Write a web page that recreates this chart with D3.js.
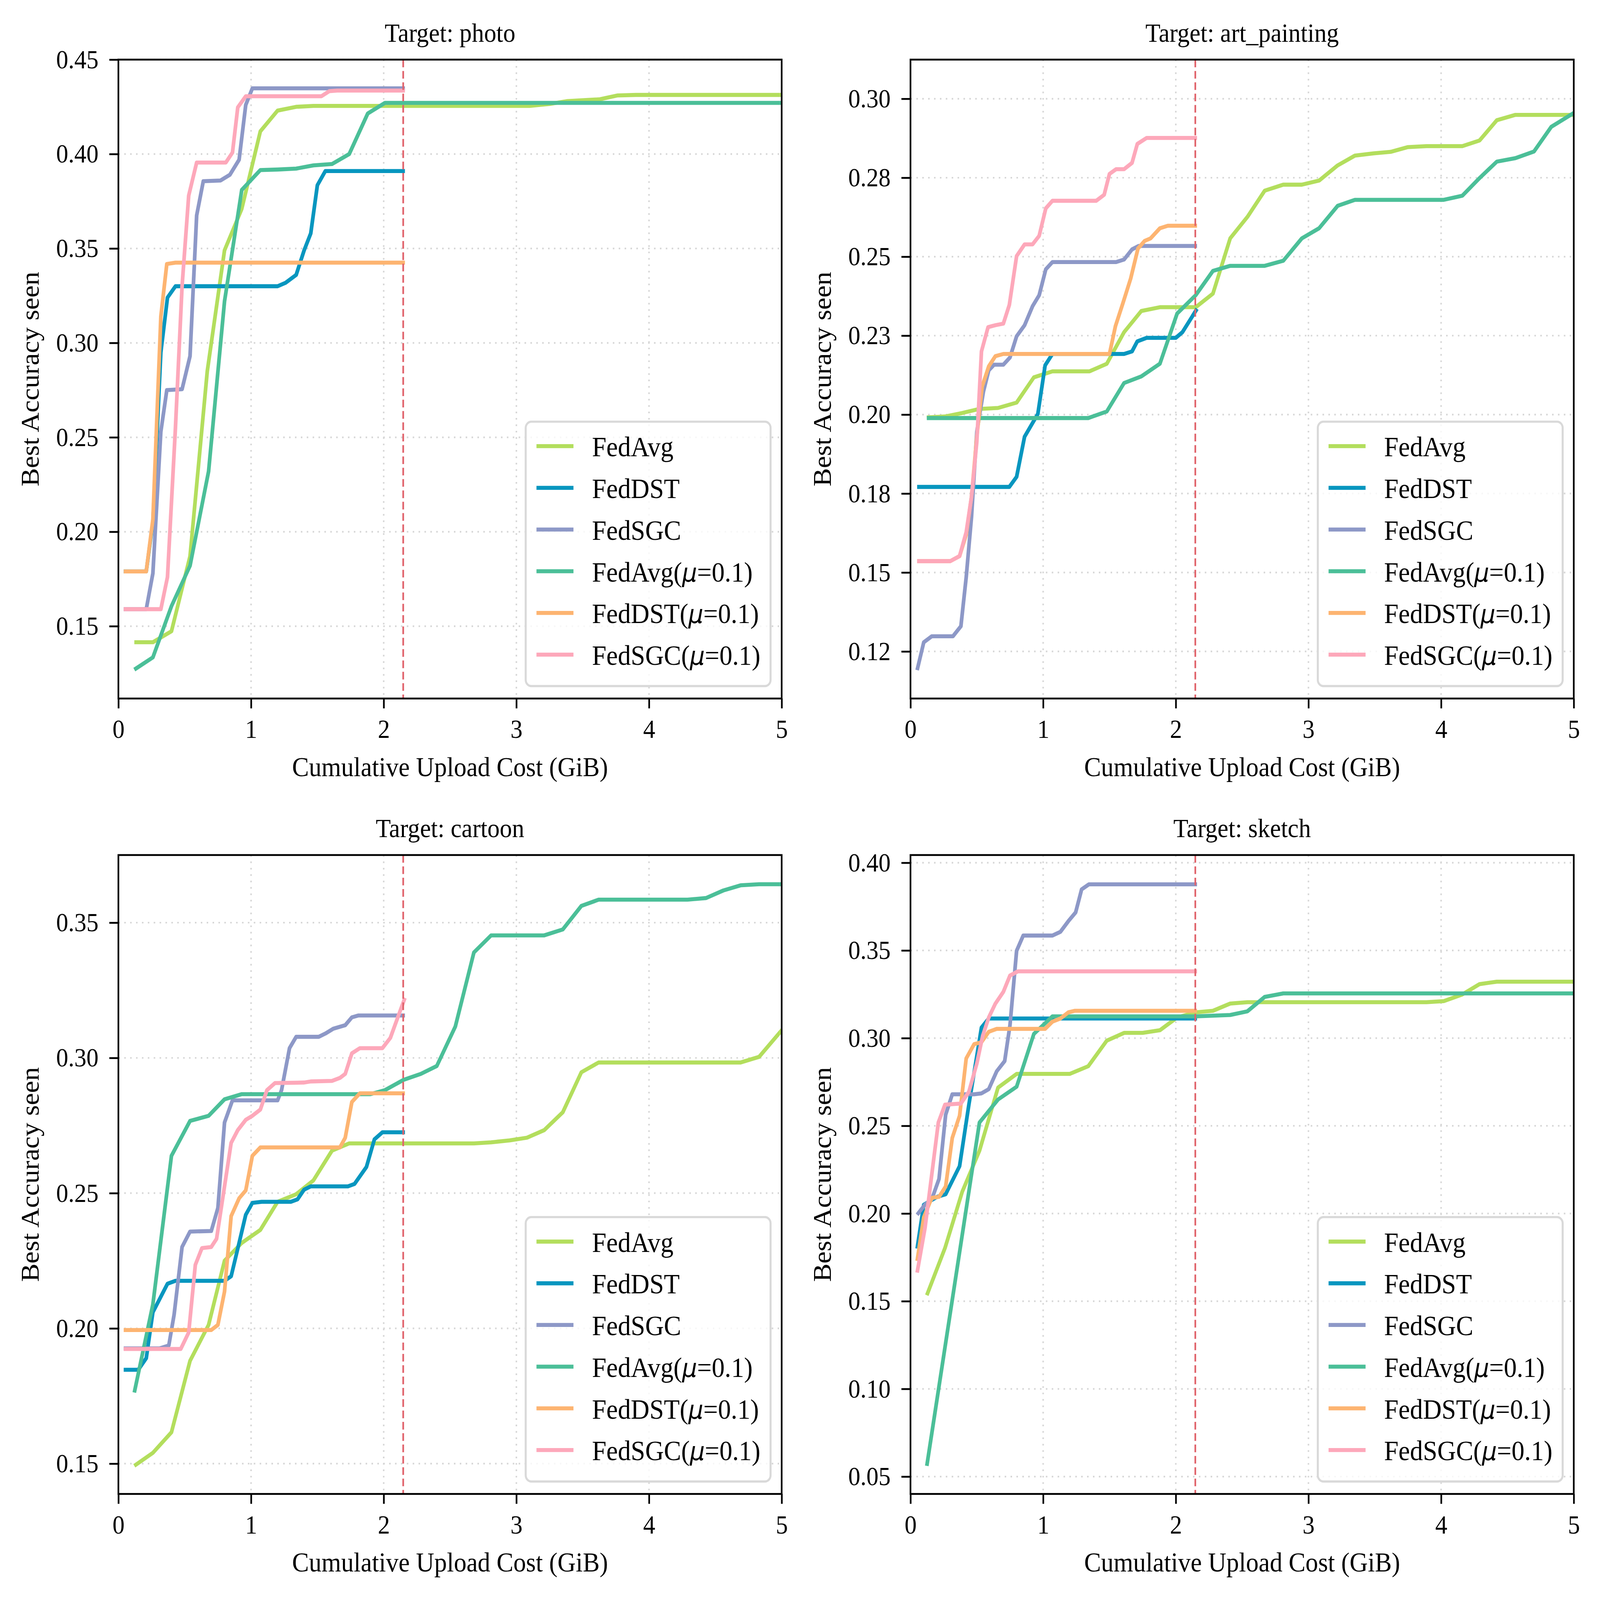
<!DOCTYPE html>
<html>
<head>
<meta charset="utf-8">
<script src="https://cdn.jsdelivr.net/npm/d3@7"></script>
<style>
  html, body { margin: 0; padding: 0; background: #fff; overflow: hidden; }
  svg { display: block; }
  text { font-family: "Liberation Serif", "Times New Roman", serif; fill: #000; }
</style>
</head>
<body>
<script>

// ---- data ----

const panelTitles = ["Target: photo", "Target: art_painting", "Target: cartoon", "Target: sketch"];

const seriesNames = ["FedAvg", "FedDST", "FedSGC", "FedAvg(μ=0.1)", "FedDST(μ=0.1)", "FedSGC(μ=0.1)"];

const xTicks = [0, 1, 2, 3, 4, 5];
const xDomain = [0, 5];
const budgetLine = 2.147;

const yDomains = [[0.1117, 0.45], [0.1101, 0.3124], [0.1388, 0.375], [0.0401, 0.4044]];

const photoYTicks = [0.15, 0.20, 0.25, 0.30, 0.35, 0.40, 0.45];
const photoYLabels = ["0.15", "0.20", "0.25", "0.30", "0.35", "0.40", "0.45"];
const artYTicks = [0.125, 0.15, 0.175, 0.2, 0.225, 0.25, 0.275, 0.3];
const artYLabels = ["0.12", "0.15", "0.18", "0.20", "0.23", "0.25", "0.28", "0.30"];
const cartoonYTicks = [0.15, 0.20, 0.25, 0.30, 0.35];
const cartoonYLabels = ["0.15", "0.20", "0.25", "0.30", "0.35"];
const sketchYTicks = [0.05, 0.10, 0.15, 0.20, 0.25, 0.30, 0.35, 0.40];
const sketchYLabels = ["0.05", "0.10", "0.15", "0.20", "0.25", "0.30", "0.35", "0.40"];

// photo: [upload cost GiB, best accuracy]
const photoFedAvg = [[0.12,0.1415],[0.26,0.1415],[0.40,0.1473],[0.54,0.187],[0.67,0.285],[0.80,0.349],[0.93,0.371],[1.07,0.412],[1.20,0.423],[1.34,0.425],[1.47,0.4255],[3.1,0.4255],[3.25,0.4265],[3.38,0.428],[3.63,0.429],[3.76,0.431],[3.9,0.4313],[5.2,0.4313]];
const photoFedDST = [[0.04,0.179],[0.21,0.179],[0.26,0.205],[0.32,0.295],[0.37,0.324],[0.43,0.33],[1.2,0.33],[1.26,0.3318],[1.34,0.336],[1.40,0.349],[1.45,0.358],[1.50,0.3835],[1.56,0.391],[2.16,0.391]];
const photoFedSGC = [[0.04,0.159],[0.21,0.159],[0.26,0.178],[0.32,0.253],[0.365,0.275],[0.48,0.2755],[0.54,0.293],[0.59,0.3675],[0.64,0.3856],[0.77,0.386],[0.84,0.389],[0.91,0.397],[0.96,0.426],[1.01,0.4348],[2.16,0.4348]];
const photoFedAvgMu = [[0.12,0.127],[0.26,0.1335],[0.40,0.1606],[0.54,0.182],[0.68,0.232],[0.80,0.322],[0.93,0.381],[1.07,0.3915],[1.20,0.3918],[1.34,0.3923],[1.47,0.394],[1.61,0.3947],[1.74,0.400],[1.88,0.4215],[2.01,0.4271],[5.2,0.4271]];
const photoFedDSTMu = [[0.04,0.179],[0.21,0.179],[0.26,0.2066],[0.32,0.314],[0.365,0.3418],[0.43,0.3425],[2.16,0.3425]];
const photoFedSGCMu = [[0.04,0.159],[0.32,0.159],[0.37,0.176],[0.43,0.255],[0.48,0.33],[0.53,0.378],[0.59,0.3955],[0.81,0.3955],[0.86,0.4008],[0.90,0.4247],[0.96,0.4306],[1.53,0.4306],[1.59,0.4333],[1.65,0.4336],[2.16,0.4336]];

// art_painting
const artFedAvg = [[0.123,0.1991],[0.26,0.1994],[0.39,0.2005],[0.52,0.2018],[0.66,0.2021],[0.80,0.2038],[0.93,0.2118],[1.07,0.2137],[1.35,0.2137],[1.48,0.2161],[1.61,0.2261],[1.74,0.2328],[1.88,0.234],[2.15,0.234],[2.28,0.2383],[2.41,0.2558],[2.54,0.2626],[2.67,0.2709],[2.81,0.2728],[2.95,0.2728],[3.08,0.2741],[3.22,0.2789],[3.35,0.282],[3.49,0.2827],[3.62,0.2832],[3.75,0.2847],[3.89,0.285],[4.16,0.285],[4.29,0.2868],[4.42,0.2932],[4.56,0.2949],[5.2,0.2949]];
const artFedDST = [[0.05,0.1771],[0.745,0.1771],[0.80,0.1803],[0.86,0.193],[0.96,0.2002],[1.015,0.2156],[1.07,0.2192],[1.61,0.2192],[1.67,0.220],[1.71,0.2232],[1.78,0.2243],[2.0,0.2243],[2.05,0.2261],[2.16,0.2335]];
const artFedSGC = [[0.05,0.1191],[0.10,0.1279],[0.16,0.1298],[0.32,0.1298],[0.38,0.133],[0.42,0.1485],[0.46,0.1676],[0.50,0.1946],[0.55,0.2073],[0.59,0.214],[0.63,0.2158],[0.70,0.2158],[0.75,0.2181],[0.80,0.2248],[0.86,0.2283],[0.92,0.2343],[0.97,0.2378],[1.02,0.246],[1.07,0.2483],[1.55,0.2483],[1.61,0.2491],[1.67,0.2523],[1.72,0.2534],[2.16,0.2534]];
const artFedAvgMu = [[0.123,0.1989],[1.34,0.1989],[1.48,0.201],[1.61,0.210],[1.74,0.2121],[1.88,0.2161],[2.01,0.232],[2.15,0.2378],[2.28,0.2455],[2.41,0.2471],[2.67,0.2471],[2.81,0.2487],[2.95,0.2558],[3.08,0.259],[3.22,0.2661],[3.35,0.268],[4.02,0.268],[4.16,0.2693],[4.29,0.2749],[4.42,0.2801],[4.56,0.2812],[4.70,0.2833],[4.83,0.2911],[5.0,0.2955],[5.1,0.2972]];
const artFedDSTMu = [[0.05,0.1536],[0.30,0.1536],[0.37,0.1552],[0.42,0.162],[0.46,0.174],[0.50,0.193],[0.54,0.2089],[0.59,0.2153],[0.64,0.2185],[0.70,0.2192],[1.50,0.2192],[1.545,0.228],[1.60,0.2351],[1.66,0.2431],[1.715,0.2526],[1.765,0.255],[1.81,0.2558],[1.88,0.259],[1.94,0.2598],[2.16,0.2598]];
const artFedSGCMu = [[0.05,0.1536],[0.30,0.1536],[0.37,0.1552],[0.42,0.1628],[0.46,0.174],[0.50,0.1914],[0.535,0.220],[0.585,0.2277],[0.64,0.2283],[0.70,0.2288],[0.745,0.2347],[0.80,0.2502],[0.86,0.2539],[0.92,0.2539],[0.97,0.2566],[1.02,0.2653],[1.07,0.2677],[1.40,0.2677],[1.46,0.2696],[1.50,0.2762],[1.55,0.2777],[1.61,0.2777],[1.67,0.2797],[1.71,0.2857],[1.78,0.2876],[2.16,0.2876]];

// cartoon
const cartoonFedAvg = [[0.12,0.1492],[0.26,0.154],[0.40,0.1616],[0.54,0.188],[0.68,0.2013],[0.80,0.225],[0.93,0.2316],[1.07,0.2364],[1.20,0.2468],[1.34,0.2496],[1.47,0.2547],[1.61,0.2657],[1.74,0.2684],[2.68,0.2684],[2.81,0.2688],[2.95,0.2695],[3.08,0.2705],[3.21,0.2733],[3.35,0.2799],[3.49,0.2947],[3.62,0.2983],[4.69,0.2983],[4.83,0.3004],[5.0,0.3102],[5.1,0.316]];
const cartoonFedDST = [[0.04,0.1847],[0.15,0.1847],[0.21,0.189],[0.26,0.206],[0.37,0.2165],[0.43,0.2176],[0.80,0.2176],[0.85,0.2193],[0.91,0.2316],[0.96,0.242],[1.01,0.2464],[1.08,0.2468],[1.30,0.2468],[1.35,0.2477],[1.40,0.2513],[1.45,0.2525],[1.73,0.2525],[1.78,0.2534],[1.87,0.2597],[1.93,0.2699],[1.99,0.2725],[2.16,0.2725]];
const cartoonFedSGC = [[0.04,0.1926],[0.31,0.1926],[0.38,0.1937],[0.42,0.2051],[0.48,0.2301],[0.54,0.2358],[0.70,0.236],[0.75,0.2445],[0.80,0.2761],[0.86,0.2843],[1.20,0.2843],[1.23,0.2881],[1.29,0.3036],[1.34,0.3078],[1.51,0.3078],[1.56,0.309],[1.62,0.3108],[1.71,0.3121],[1.76,0.315],[1.81,0.3157],[2.16,0.3157]];
const cartoonFedAvgMu = [[0.12,0.1763],[0.26,0.2089],[0.40,0.2638],[0.54,0.2767],[0.68,0.2786],[0.80,0.2847],[0.93,0.2866],[1.90,0.2866],[2.01,0.2881],[2.15,0.2919],[2.28,0.2941],[2.40,0.297],[2.54,0.3116],[2.68,0.339],[2.81,0.3453],[3.21,0.3453],[3.35,0.3475],[3.49,0.3562],[3.62,0.3585],[4.29,0.3585],[4.43,0.3591],[4.56,0.3619],[4.69,0.3638],[4.83,0.3642],[5.2,0.3642]];
const cartoonFedDSTMu = [[0.04,0.1994],[0.70,0.1994],[0.75,0.2013],[0.80,0.2136],[0.85,0.2415],[0.91,0.2481],[0.96,0.251],[1.01,0.2638],[1.07,0.2669],[1.67,0.2669],[1.71,0.2705],[1.76,0.2837],[1.82,0.2869],[2.16,0.2869]];
const cartoonFedSGCMu = [[0.04,0.1924],[0.47,0.1924],[0.53,0.1985],[0.58,0.2235],[0.63,0.2297],[0.70,0.2301],[0.74,0.2331],[0.80,0.2525],[0.85,0.2686],[0.90,0.2733],[0.96,0.2771],[1.01,0.2786],[1.07,0.2809],[1.12,0.2881],[1.18,0.2907],[1.40,0.2909],[1.45,0.2913],[1.61,0.2915],[1.67,0.2926],[1.71,0.2941],[1.76,0.3017],[1.82,0.3036],[1.99,0.3036],[2.05,0.3074],[2.16,0.3222]];

// sketch
const sketchFedAvg = [[0.123,0.1534],[0.26,0.1803],[0.39,0.2124],[0.52,0.2358],[0.66,0.2718],[0.80,0.2796],[1.20,0.2796],[1.34,0.284],[1.48,0.2986],[1.61,0.303],[1.75,0.303],[1.88,0.3045],[2.01,0.3118],[2.15,0.3147],[2.28,0.3156],[2.41,0.3197],[2.54,0.3205],[3.89,0.3205],[4.02,0.3211],[4.16,0.3249],[4.29,0.3308],[4.42,0.3322],[5.2,0.3322]];
const sketchFedDST = [[0.05,0.18],[0.10,0.205],[0.20,0.2095],[0.265,0.211],[0.37,0.227],[0.44,0.262],[0.535,0.306],[0.59,0.3112],[2.16,0.3112]];
const sketchFedSGC = [[0.05,0.1993],[0.11,0.2051],[0.16,0.208],[0.215,0.2197],[0.265,0.2563],[0.315,0.268],[0.48,0.268],[0.535,0.2685],[0.59,0.2709],[0.65,0.2811],[0.71,0.2869],[0.75,0.3074],[0.80,0.3498],[0.85,0.3585],[1.07,0.3585],[1.13,0.3606],[1.19,0.3667],[1.245,0.3717],[1.29,0.3848],[1.345,0.3877],[2.16,0.3877]];
const sketchFedAvgMu = [[0.123,0.0561],[0.52,0.2519],[0.66,0.265],[0.80,0.2723],[0.93,0.3024],[1.07,0.3124],[2.15,0.3124],[2.41,0.3132],[2.54,0.3153],[2.67,0.3235],[2.81,0.3255],[5.2,0.3255]];
const sketchFedDSTMu = [[0.05,0.173],[0.10,0.1978],[0.16,0.2089],[0.215,0.2095],[0.265,0.2154],[0.315,0.2431],[0.37,0.2557],[0.42,0.2884],[0.48,0.2966],[0.535,0.2977],[0.59,0.3036],[0.65,0.3053],[1.015,0.3053],[1.07,0.3094],[1.13,0.3112],[1.19,0.3147],[1.24,0.3156],[2.16,0.3156]];
const sketchFedSGCMu = [[0.05,0.1663],[0.11,0.192],[0.21,0.2519],[0.26,0.2621],[0.38,0.2627],[0.44,0.2694],[0.50,0.2855],[0.545,0.3015],[0.59,0.3118],[0.64,0.3197],[0.70,0.3264],[0.75,0.3357],[0.81,0.3381],[2.16,0.3381]];

const panelSeries = [
  [photoFedAvg, photoFedDST, photoFedSGC, photoFedAvgMu, photoFedDSTMu, photoFedSGCMu],
  [artFedAvg, artFedDST, artFedSGC, artFedAvgMu, artFedDSTMu, artFedSGCMu],
  [cartoonFedAvg, cartoonFedDST, cartoonFedSGC, cartoonFedAvgMu, cartoonFedDSTMu, cartoonFedSGCMu],
  [sketchFedAvg, sketchFedDST, sketchFedSGC, sketchFedAvgMu, sketchFedDSTMu, sketchFedSGCMu]
];
const panelYTicks = [photoYTicks, artYTicks, cartoonYTicks, sketchYTicks];
const panelYLabels = [photoYLabels, artYLabels, cartoonYLabels, sketchYLabels];

// ---- styling / layout ----

const colors = ["#b3de5d", "#0796bf", "#8d98c7", "#4bbf98", "#fdb471", "#fda8ba"];

const W = 4757, H = 4375;
const plotW = 1972, plotH = 1747;
const origins = [[352, 163], [2707, 163], [352, 2338], [2707, 2338]];

// scale the whole drawing to whatever viewport the page gets
const svg = d3.select("body").append("svg")
  .attr("viewBox", "0 0 " + W + " " + H)
  .attr("preserveAspectRatio", "none")
  .style("width", "100vw")
  .style("height", "100vh");

svg.append("rect").attr("width", W).attr("height", H).attr("fill", "#fff");

panelTitles.forEach((title, p) => {

  const x = d3.scaleLinear().domain(xDomain).range([0, plotW]);
  const y = d3.scaleLinear().domain(yDomains[p]).range([plotH, 0]);

  const g = svg.append("g")
    .attr("transform", "translate(" + origins[p][0] + "," + origins[p][1] + ")");

  // grid
  g.append("g").selectAll("line")
    .data(xTicks)
    .enter().append("line")
    .attr("x1", d => x(d)).attr("x2", d => x(d))
    .attr("y1", 0).attr("y2", plotH)
    .attr("stroke", "#d6d6d6").attr("stroke-width", 4.5)
    .attr("stroke-dasharray", "4.5,13");

  g.append("g").selectAll("line")
    .data(panelYTicks[p])
    .enter().append("line")
    .attr("x1", 0).attr("x2", plotW)
    .attr("y1", d => y(d)).attr("y2", d => y(d))
    .attr("stroke", "#d6d6d6").attr("stroke-width", 4.5)
    .attr("stroke-dasharray", "4.5,13");

  // series
  g.append("clipPath")
    .attr("id", "clip" + p)
    .append("rect")
    .attr("width", plotW)
    .attr("height", plotH);

  const line = d3.line().x(d => x(d[0])).y(d => y(d[1]));

  g.append("g")
    .attr("clip-path", "url(#clip" + p + ")")
    .selectAll("path")
    .data(panelSeries[p])
    .enter().append("path")
    .attr("d", line)
    .attr("fill", "none")
    .attr("stroke", (d, i) => colors[i])
    .attr("stroke-width", 11)
    .attr("stroke-linejoin", "round")
    .attr("stroke-linecap", "butt");

  // communication budget marker
  g.append("line")
    .attr("x1", x(budgetLine)).attr("x2", x(budgetLine))
    .attr("y1", 0).attr("y2", plotH)
    .attr("stroke", "#e0636b")
    .attr("stroke-width", 5)
    .attr("stroke-dasharray", "21,10");

  // axes
  const xAxis = g.append("g")
    .attr("transform", "translate(0," + plotH + ")")
    .call(d3.axisBottom(x).tickValues(xTicks).tickFormat(d3.format("d")).tickSize(27).tickPadding(30).tickSizeOuter(0));

  const yAxis = g.append("g")
    .call(d3.axisLeft(y).tickValues(panelYTicks[p]).tickFormat((d, i) => panelYLabels[p][i]).tickSize(27).tickPadding(32).tickSizeOuter(0));

  [xAxis, yAxis].forEach(a => {
    a.select(".domain").remove();
    a.selectAll(".tick line").attr("stroke", "#000").attr("stroke-width", 5);
    a.selectAll(".tick text")
      .attr("font-size", 72)
      .attr("font-family", "Liberation Serif, Times New Roman, serif")
      .attr("fill", "#000");
  });

  g.append("rect")
    .attr("width", plotW)
    .attr("height", plotH)
    .attr("fill", "none")
    .attr("stroke", "#000")
    .attr("stroke-width", 5);

  // labels
  g.append("text")
    .attr("x", plotW / 2).attr("y", -49)
    .attr("text-anchor", "middle")
    .attr("font-size", 73)
    .text(title);

  g.append("text")
    .attr("x", plotW / 2).attr("y", plotH + 212)
    .attr("text-anchor", "middle")
    .attr("font-size", 75)
    .text("Cumulative Upload Cost (GiB)");

  g.append("text")
    .attr("transform", "translate(-237," + (plotH / 2) + ") rotate(-90)")
    .attr("text-anchor", "middle")
    .attr("font-size", 75)
    .text("Best Accuracy seen");

  // legend
  const legW = 728, legH = 723;
  const leg = g.append("g")
    .attr("transform", "translate(" + (plotW - 33 - legW) + "," + (plotH - 34 - legH) + ")");

  leg.append("rect")
    .attr("width", legW).attr("height", legH)
    .attr("rx", 17).attr("ry", 17)
    .attr("fill", "#fff").attr("fill-opacity", 0.8)
    .attr("stroke", "#d9d9d9").attr("stroke-width", 6);

  const rows = leg.selectAll(".row")
    .data(seriesNames)
    .enter().append("g")
    .attr("class", "row")
    .attr("transform", (d, i) => "translate(0," + (67 + i * 114) + ")");

  rows.append("line")
    .attr("x1", 32).attr("x2", 142)
    .attr("stroke", (d, i) => colors[i])
    .attr("stroke-width", 11);

  rows.each(function(name) {
    const t = d3.select(this).append("text")
      .attr("x", 197).attr("y", 28)
      .attr("font-size", 77);
    const k = name.indexOf("μ");
    if (k < 0) {
      t.text(name);
    } else {
      t.append("tspan").text(name.slice(0, k));
      t.append("tspan")
        .attr("font-family", "DejaVu Sans")
        .attr("font-style", "italic")
        .attr("font-size", 70)
        .text("μ");
      t.append("tspan").text(name.slice(k + 1));
    }
  });
});

</script>
</body>
</html>
